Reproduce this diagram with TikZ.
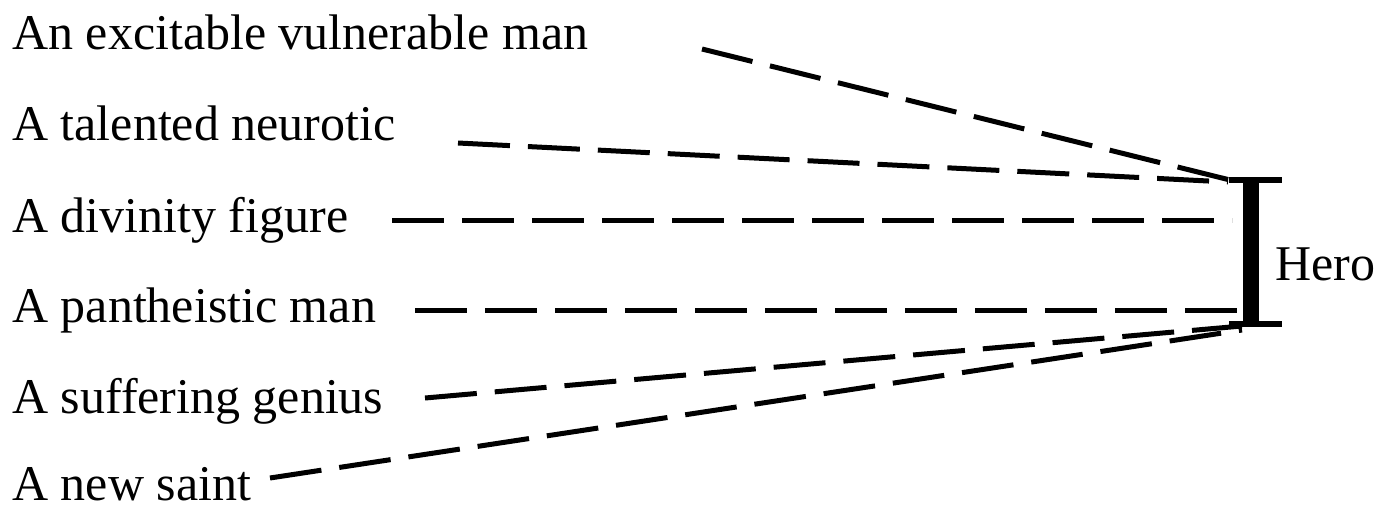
\documentclass[tikz,border=0pt]{standalone}
\usepackage{fontspec}
\setmainfont{Liberation Serif}
\begin{document}
\begin{tikzpicture}[x=1pt,y=-1pt,
  lbl/.style={anchor=base west,inner sep=0pt,font=\fontsize{50}{54}\selectfont},
  conn/.style={line width=5pt,dash pattern=on 52pt off 18pt},
  bar/.style={line width=6pt}]
\useasboundingbox (0,0) rectangle (1378,511);
\node[lbl] (t1) at (12,50) {An excitable vulnerable man};
\node[lbl] (t2) at (12,140) {A talented neurotic};
\node[lbl] (t3) at (12,232) {A divinity figure};
\node[lbl] (t4) at (12,322) {A pantheistic man};
\node[lbl] (t5) at (12,413) {A suffering genius};
\node[lbl] (t6) at (12,500) {A new saint};
\node[lbl] (hero) at (1275,280) {Hero};
\coordinate (s1) at (702,49);
\coordinate (s2) at (458,143);
\coordinate (s3) at (392,220);
\coordinate (s4) at (415,310);
\coordinate (s5) at (425,398);
\coordinate (s6) at (270,478);
\coordinate (e1) at (1230,180);
\coordinate (e2) at (1228,182);
\coordinate (e3) at (1232,220);
\coordinate (e4) at (1242,310);
\coordinate (e5) at (1242,326);
\coordinate (e6) at (1242,330);
\coordinate (btop) at (1251,180);
\coordinate (bbot) at (1251,324);
\draw[conn] (s1) -- (e1);
\draw[conn] (s2) -- (e2);
\draw[conn] (s3) -- (e3);
\draw[conn] (s4) -- (e4);
\draw[conn] (s5) -- (e5);
\draw[conn] (s6) -- (e6);
\draw[line width=16pt] (btop) -- (bbot);
\draw[bar] ([xshift=-22pt]btop) -- ([xshift=31pt]btop);
\draw[bar] ([xshift=-22pt]bbot) -- ([xshift=31pt]bbot);
\end{tikzpicture}
\end{document}
